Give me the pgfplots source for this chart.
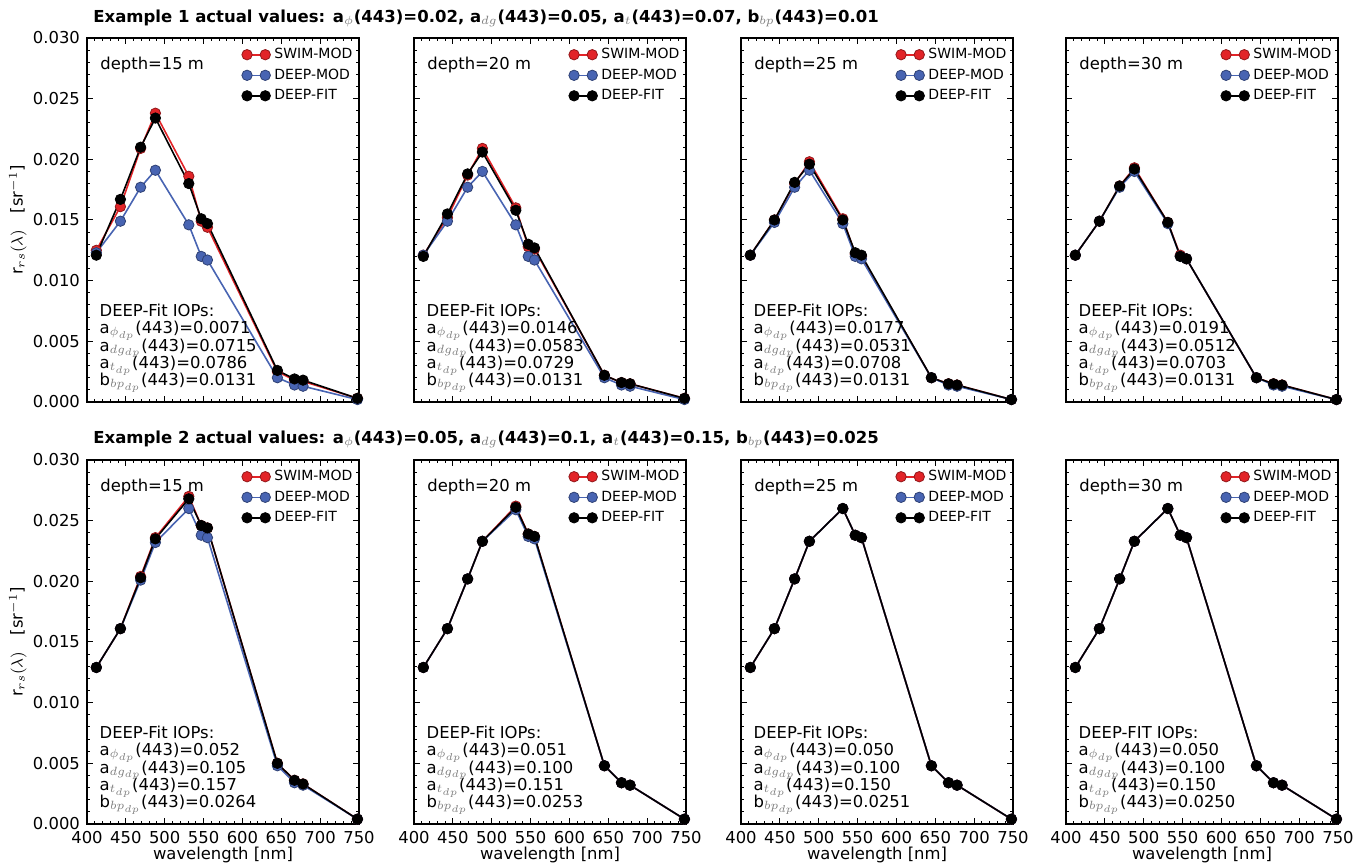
\documentclass[border=0pt]{standalone}
\usepackage{pgfplots}
\usepackage{pgfplotstable}
\pgfplotsset{compat=1.18}
\usepackage{fontspec}
\setmainfont{DejaVu Sans}
\definecolor{swim}{RGB}{226,36,40}
\definecolor{dmod}{RGB}{72,100,178}
\newcommand{\sub}[1]{$_{\textcolor{gray}{#1}}$}
\newcommand{\subs}[1]{$_{\smash{\textcolor{gray}{#1}}}$}
\newcommand{\annfont}{\fontsize{8.2}{8.75}\selectfont}
\pgfplotsset{
  panel/.style={
    scale only axis, width=136pt, height=182pt, anchor=south west,
    xmin=400, xmax=750, ymin=0, ymax=0.030,
    xtick={400,450,...,750}, minor x tick num=4,
    ytick={0,0.005,0.010,0.015,0.020,0.025,0.030}, minor y tick num=4,
    tick align=inside, major tick length=3pt, minor tick length=1.6pt,
    tick style={black, line width=0.5pt},
    axis line style={line width=0.7pt},
    scaled y ticks=false,
    yticklabel style={/pgf/number format/.cd, fixed, fixed zerofill, precision=3, assume math mode=true},
    xticklabel style={/pgf/number format/.cd, assume math mode=true},
    tick label style={font=\annfont},
    label style={font=\annfont},
    legend style={draw=none, fill=none, at={(0.999,0.99)}, anchor=north east,
      font=\fontsize{7}{8}\selectfont, row sep=-0.4pt, inner sep=1pt},
    legend cell align=left,
    legend image code/.code={\draw[##1] plot coordinates {(0cm,0cm) (0.32cm,0cm)};},
  },
  swimst/.style={color=swim, line width=0.8pt, mark=*, mark size=2.6pt,
     mark options={fill=swim, draw=swim!65!black, line width=0.4pt}},
  dmodst/.style={color=dmod, line width=0.8pt, mark=*, mark size=2.6pt,
     mark options={fill=dmod, draw=dmod!65!black, line width=0.4pt}},
  dfitst/.style={color=black, line width=0.8pt, mark=*, mark size=2.6pt,
     mark options={fill=black, draw=black, line width=0.4pt}},
  toprow/.style={xticklabels={}},
  botrow/.style={xlabel={wavelength [nm]}, xlabel style={at={(axis description cs:0.5,0)}, anchor=center, yshift=-15.5pt}},
  firstcol/.style={ylabel={r$_{rs}(\lambda)$\quad [sr$^{-1}$]}, ylabel style={at={(axis description cs:-0.254,0.5)}, anchor=center}},
  othercol/.style={yticklabels={}},
}
% #1 position, #2 table, #3 depth, #4 options, #5 header, #6-#9 values
\newcommand{\panel}[9]{%
\begin{axis}[panel, at={#1}, #4]
\addplot[swimst] table[x=wl,y=s] {#2};
\addlegendentry{SWIM-MOD}
\addplot[dmodst] table[x=wl,y=m] {#2};
\addlegendentry{DEEP-MOD}
\addplot[dfitst] table[x=wl,y=f] {#2};
\addlegendentry{DEEP-FIT}
\node[anchor=west, inner sep=0pt, font=\annfont] at (rel axis cs:0.048,0.925) {#3};
\node[anchor=base west, inner sep=0pt, font=\annfont] at (rel axis cs:0.045,0.236) {#5};
\node[anchor=base west, inner sep=0pt, font=\annfont] at (rel axis cs:0.045,0.188) {a\subs{\phi_{dp}}(443)=#6};
\node[anchor=base west, inner sep=0pt, font=\annfont] at (rel axis cs:0.045,0.140) {a\subs{dg_{dp}}(443)=#7};
\node[anchor=base west, inner sep=0pt, font=\annfont] at (rel axis cs:0.045,0.092) {a\subs{t_{dp}}(443)=#8};
\node[anchor=base west, inner sep=0pt, font=\annfont] at (rel axis cs:0.045,0.044) {b\subs{bp_{dp}}(443)=#9};
\end{axis}}

\pgfplotstableread{
wl s m f
412 0.0125 0.0123 0.0121
443 0.0161 0.0149 0.0167
469 0.0209 0.0177 0.0210
488 0.0238 0.0191 0.0234
531 0.0186 0.0146 0.0180
547 0.0149 0.0120 0.0151
555 0.0144 0.0117 0.0147
645 0.0025 0.0020 0.0026
667 0.0018 0.0014 0.0019
678 0.0017 0.0013 0.0018
748 0.0003 0.0002 0.0003
}\tA
\pgfplotstableread{
wl s m f
412 0.0121 0.0121 0.0120
443 0.0152 0.0149 0.0155
469 0.0187 0.0177 0.0188
488 0.0209 0.0190 0.0206
531 0.0160 0.0146 0.0158
547 0.0128 0.0120 0.0130
555 0.0126 0.0117 0.0127
645 0.0022 0.0020 0.0022
667 0.0016 0.0014 0.0016
678 0.0015 0.0013 0.0015
748 0.0003 0.0002 0.0003
}\tB
\pgfplotstableread{
wl s m f
412 0.0121 0.0121 0.0121
443 0.0150 0.0148 0.0150
469 0.0180 0.0177 0.0181
488 0.0198 0.0191 0.0196
531 0.0151 0.0147 0.0150
547 0.0122 0.0120 0.0123
555 0.0120 0.0118 0.0121
645 0.0020 0.0020 0.0020
667 0.0015 0.0014 0.0015
678 0.0014 0.0013 0.0014
748 0.0002 0.0002 0.0002
}\tC
\pgfplotstableread{
wl s m f
412 0.0121 0.0121 0.0121
443 0.0149 0.0149 0.0149
469 0.0178 0.0177 0.0178
488 0.0193 0.0190 0.0192
531 0.0148 0.0147 0.0148
547 0.0121 0.0120 0.0120
555 0.0118 0.0118 0.0118
645 0.0020 0.0020 0.0020
667 0.0015 0.0014 0.0015
678 0.0014 0.0013 0.0014
748 0.0002 0.0002 0.0002
}\tD
\pgfplotstableread{
wl s m f
412 0.0129 0.0129 0.0129
443 0.0161 0.0161 0.0161
469 0.0204 0.0201 0.0203
488 0.0236 0.0232 0.0235
531 0.0270 0.0260 0.0268
547 0.0246 0.0238 0.0246
555 0.0244 0.0236 0.0244
645 0.0050 0.0048 0.0050
667 0.0036 0.0034 0.0036
678 0.0033 0.0032 0.0033
748 0.0004 0.0004 0.0004
}\tE
\pgfplotstableread{
wl s m f
412 0.0129 0.0129 0.0129
443 0.0161 0.0161 0.0161
469 0.0202 0.0202 0.0202
488 0.0233 0.0233 0.0233
531 0.0262 0.0259 0.0261
547 0.0239 0.0237 0.0239
555 0.0237 0.0235 0.0237
645 0.0048 0.0048 0.0048
667 0.0034 0.0034 0.0034
678 0.0032 0.0032 0.0032
748 0.0004 0.0004 0.0004
}\tF
\pgfplotstableread{
wl s m f
412 0.0129 0.0129 0.0129
443 0.0161 0.0161 0.0161
469 0.0202 0.0202 0.0202
488 0.0233 0.0233 0.0233
531 0.0260 0.0260 0.0260
547 0.0238 0.0238 0.0238
555 0.0236 0.0236 0.0236
645 0.0048 0.0048 0.0048
667 0.0034 0.0034 0.0034
678 0.0032 0.0032 0.0032
748 0.0004 0.0004 0.0004
}\tG

\begin{document}
\begin{tikzpicture}
\useasboundingbox (0,0) rectangle (681.5pt,432.5pt);
\node[anchor=west, inner sep=0pt, font=\fontsize{8.25}{10}\selectfont\bfseries] at (46.5pt,423.3pt)
 {Example 1 actual values: a\sub{\phi}(443)=0.02, a\sub{dg}(443)=0.05, a\sub{t}(443)=0.07, b\sub{bp}(443)=0.01};
\node[anchor=west, inner sep=0pt, font=\fontsize{8.25}{10}\selectfont\bfseries] at (46.5pt,212.8pt)
 {Example 2 actual values: a\sub{\phi}(443)=0.05, a\sub{dg}(443)=0.1, a\sub{t}(443)=0.15, b\sub{bp}(443)=0.025};

\panel{(43.5pt,231.5pt)}{\tA}{depth=15 m}{toprow,firstcol}{DEEP-Fit IOPs:}{0.0071}{0.0715}{0.0786}{0.0131}
\panel{(207pt,231.5pt)}{\tB}{depth=20 m}{toprow,othercol}{DEEP-Fit IOPs:}{0.0146}{0.0583}{0.0729}{0.0131}
\panel{(370.5pt,231.5pt)}{\tC}{depth=25 m}{toprow,othercol}{DEEP-Fit IOPs:}{0.0177}{0.0531}{0.0708}{0.0131}
\panel{(533pt,231.5pt)}{\tD}{depth=30 m}{toprow,othercol}{DEEP-Fit IOPs:}{0.0191}{0.0512}{0.0703}{0.0131}

\panel{(43.5pt,20.5pt)}{\tE}{depth=15 m}{botrow,firstcol}{DEEP-Fit IOPs:}{0.052}{0.105}{0.157}{0.0264}
\panel{(207pt,20.5pt)}{\tF}{depth=20 m}{botrow,othercol}{DEEP-Fit IOPs:}{0.051}{0.100}{0.151}{0.0253}
\panel{(370.5pt,20.5pt)}{\tG}{depth=25 m}{botrow,othercol}{DEEP-Fit IOPs:}{0.050}{0.100}{0.150}{0.0251}
\panel{(533pt,20.5pt)}{\tG}{depth=30 m}{botrow,othercol}{DEEP-FIT IOPs:}{0.050}{0.100}{0.150}{0.0250}
\end{tikzpicture}
\end{document}
